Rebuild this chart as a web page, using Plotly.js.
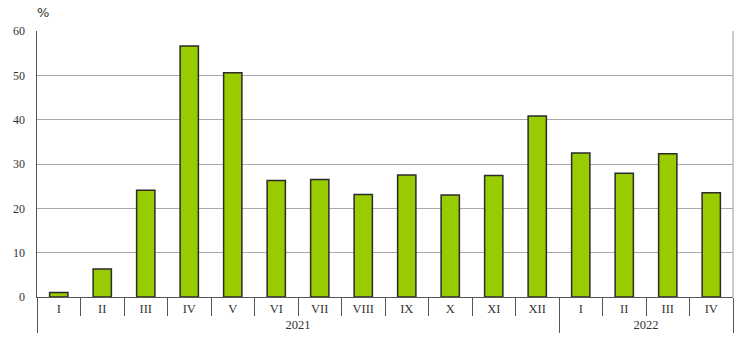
<!DOCTYPE html>
<html>
<head>
<meta charset="utf-8">
<script src="https://cdn.plot.ly/plotly-3.0.1.min.js"></script>
<style>html,body{margin:0;padding:0;background:#fff;}#chart{width:740px;height:342px;}</style>
</head>
<body>
<div id="chart"></div>
<script>
const years = ["2021","2021","2021","2021","2021","2021","2021","2021","2021","2021","2021","2021","2022","2022","2022","2022"];
const months = ["I","II","III","IV","V","VI","VII","VIII","IX","X","XI","XII","I","II","III","IV"];
const values = [1.0, 6.3, 24.1, 56.6, 50.6, 26.3, 26.5, 23.1, 27.5, 23.0, 27.4, 40.8, 32.5, 27.9, 32.3, 23.5];
const yTicks = [0, 10, 20, 30, 40, 50, 60];

const trace = {
  type: "bar",
  x: [years, months],
  y: values,
  marker: {color: "#99cc00", line: {color: "#2b2b2b", width: 1.5}},
  hoverinfo: "skip"
};

const layout = {
  width: 740, height: 342,
  margin: {l: 37, r: 7, t: 31, b: 45},
  paper_bgcolor: "#fff", plot_bgcolor: "#fff",
  bargap: 0.58,
  showlegend: false,
  font: {family: "Liberation Serif", size: 12, color: "#333"},
  xaxis: {
    type: "multicategory",
    showline: true, linecolor: "#555", linewidth: 1,
    mirror: false,
    ticks: "outside", ticklen: 18, tickcolor: "#555", tickwidth: 1,
    showdividers: true, dividercolor: "#555", dividerwidth: 1,
    tickfont: {family: "Liberation Serif", size: 12.5, color: "#333"},
    showgrid: false
  },
  yaxis: {
    range: [0, 60],
    tickvals: yTicks,
    ticktext: yTicks.map(String),
    showgrid: true, gridcolor: "#aaaaaa", gridwidth: 1,
    showline: true, linecolor: "#555", linewidth: 1.5,
    ticks: "", ticklabelstandoff: 8,
    zeroline: false,
    tickfont: {family: "Liberation Serif", size: 12, color: "#333"}
  },
  annotations: [{
    text: "%", xref: "paper", yref: "paper", x: 0, y: 1, xanchor: "left", yanchor: "bottom",
    xshift: -2, yshift: 9, showarrow: false,
    font: {family: "DejaVu Sans", size: 13, color: "#333"}
  }],
  shapes: [{
    type: "line", xref: "paper", yref: "paper", x0: 1, x1: 1, y0: 0, y1: 1,
    line: {color: "#999", width: 1}
  }]
};

Plotly.newPlot("chart", [trace], layout, {displayModeBar: false, staticPlot: true});
</script>
</body>
</html>
